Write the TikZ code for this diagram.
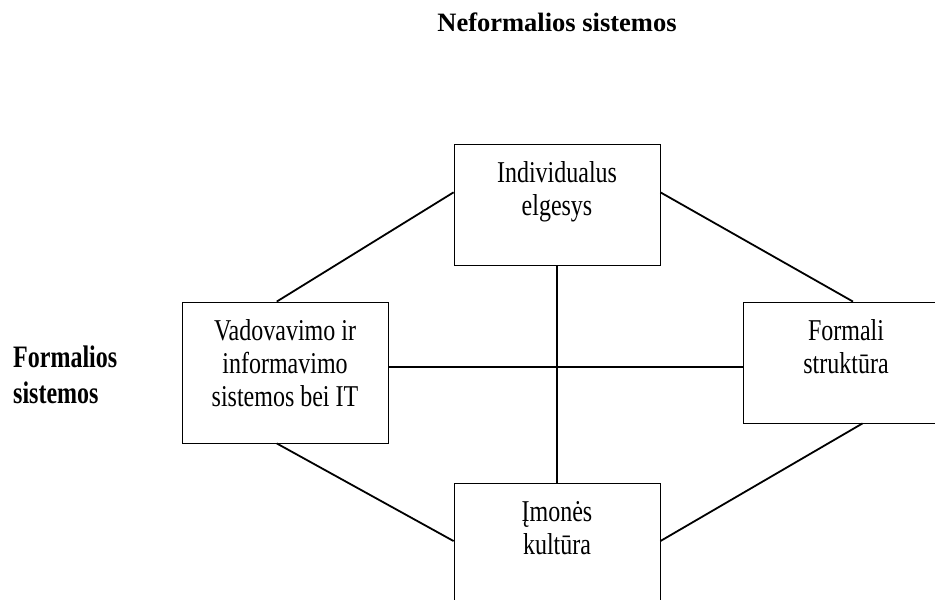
\documentclass[tikz,border=0pt]{standalone}
\usepackage{fontspec}
\setmainfont{Liberation Serif}
\usetikzlibrary{calc}
\newcommand\stl[1]{\scalebox{1}[1.26]{#1}}
\newcommand\bxtext[2]{\parbox[c][#1][t]{206pt}{\centering\fontsize{24}{33}\selectfont\vspace*{18pt}#2\par}}
\begin{document}
\begin{tikzpicture}[x=1pt,y=-1pt,
  boxn/.style={draw, line width=0.8pt, inner sep=0pt},
  conn/.style={line width=1.8pt},
  lbl/.style={inner sep=0pt, font=\fontsize{24}{24}\selectfont\bfseries}]
\useasboundingbox (0,0) rectangle (935,600);
\clip (0,0) rectangle (935,600);
\fill[white] (0,0) rectangle (935,600);
\node[boxn] (top) at (557,204.5) {\bxtext{121pt}{\stl{Individualus}\\\stl{elgesys}}};
\node[boxn] (left) at (285,372.5) {\bxtext{141pt}{\stl{Vadovavimo ir}\\\stl{informavimo}\\\stl{sistemos bei IT}}};
\node[boxn] (right) at (846,362.5) {\bxtext{121pt}{\stl{Formali}\\\stl{struktūra}}};
\node[boxn] (bot) at (557,543.5) {\bxtext{121pt}{\stl{Įmonės}\\\stl{kultūra}}};
\node[lbl, anchor=base, font=\fontsize{26.5}{26.5}\selectfont\bfseries] (nf) at (557,31) {Neformalios sistemos};
\node[lbl, anchor=base west] (fs1) at (13,367) {\scalebox{1}[1.3]{Formalios}};
\node[lbl, anchor=base west] (fs2) at (13,403) {\scalebox{1}[1.3]{sistemos}};
\coordinate (hy) at (0,367);
\draw[conn] ($(top.north west)!0.4!(top.south west)$) -- ($(left.north west)!0.46!(left.north east)$);
\draw[conn] ($(top.north east)!0.4!(top.south east)$) -- ($(right.north west)!0.534!(right.north east)$);
\draw[conn] ($(left.south west)!0.46!(left.south east)$) -- ($(bot.north west)!0.48!(bot.south west)$);
\draw[conn] ($(right.south west)!0.58!(right.south east)$) -- ($(bot.north east)!0.48!(bot.south east)$);
\draw[line width=1.4pt] (top.south) -- (bot.north);
\draw[line width=2.4pt] (left.east |- hy) -- (right.west |- hy);
\end{tikzpicture}
\end{document}
